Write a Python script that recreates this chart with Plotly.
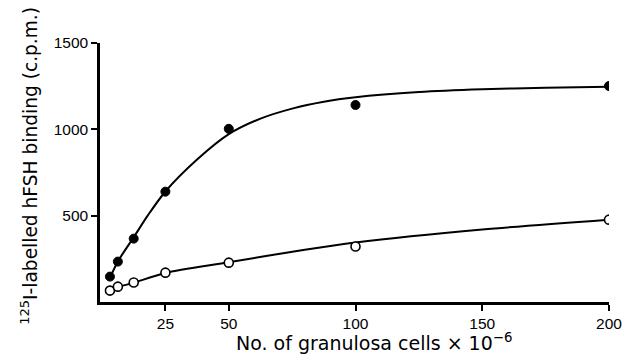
import plotly.graph_objects as go

# Cell numbers (x 10^-6) and measured binding (c.p.m.)
cells = [3.125, 6.25, 12.5, 25, 50, 100, 200]
binding_closed = [147, 234, 367, 639, 1003, 1141, 1251]
binding_open = [66, 89, 113, 170, 228, 321, 477]

# Hand-fitted smooth curves through each series
fit_closed_x = [3.125, 6.25, 12.5, 18, 25, 37.5, 50, 62.5, 75, 87.5, 100, 125, 150, 175, 200]
fit_closed_y = [140, 235, 375, 500, 640, 825, 972, 1062, 1120, 1160, 1186, 1216, 1232, 1241, 1247]
fit_open_x = [3.125, 6.25, 12.5, 25, 50, 80, 100, 150, 200]
fit_open_y = [64, 86, 111, 168, 230, 303, 345, 420, 477]

x_ticks = [25, 50, 100, 150, 200]
y_ticks = [500, 1000, 1500]

TICK_FONT = "Liberation Sans, Arial, sans-serif"
TITLE_FONT = "DejaVu Sans, Verdana, sans-serif"

fig = go.Figure()
for fx, fy in [(fit_closed_x, fit_closed_y), (fit_open_x, fit_open_y)]:
    fig.add_trace(go.Scatter(x=fx, y=fy, mode="lines",
                             line=dict(color="black", width=2, shape="spline", smoothing=0.8),
                             hoverinfo="skip", showlegend=False))
fig.add_trace(go.Scatter(x=cells, y=binding_closed, mode="markers",
                         marker=dict(color="black", size=9, line=dict(color="black", width=1)),
                         showlegend=False))
fig.add_trace(go.Scatter(x=cells, y=binding_open, mode="markers",
                         marker=dict(color="white", size=9, line=dict(color="black", width=1.6)),
                         showlegend=False))

axis_common = dict(showline=True, linecolor="black", linewidth=2.5, showgrid=False,
                   zeroline=False, ticks="outside", ticklen=6, tickwidth=2,
                   tickcolor="black", tickfont=dict(family=TICK_FONT, size=15.5, color="black"))

fig.update_layout(
    width=634, height=360,
    margin=dict(l=100, r=16, t=43, b=58),
    paper_bgcolor="white", plot_bgcolor="white",
    font=dict(family=TICK_FONT, size=15, color="black"),
    xaxis=dict(range=[-0.8, 200], tickvals=x_ticks, ticktext=[str(v) for v in x_ticks],
               **axis_common),
    yaxis=dict(range=[0, 1500], tickvals=y_ticks, ticktext=[str(v) for v in y_ticks],
               **axis_common),
    annotations=[
        dict(text="No. of granulosa cells × 10<sup>−6</sup>", xref="paper", yref="paper",
             x=0.539, y=-0.155, xanchor="center", yanchor="middle", showarrow=False,
             font=dict(family=TITLE_FONT, size=19, color="black")),
        dict(text="<sup>125</sup>I-labelled hFSH binding (c.p.m.)", xref="paper", yref="paper",
             x=-0.141, y=0.527, xanchor="center", yanchor="middle", textangle=-90,
             showarrow=False, font=dict(family=TITLE_FONT, size=18.6, color="black")),
    ],
)

fig.write_html("out.html")
